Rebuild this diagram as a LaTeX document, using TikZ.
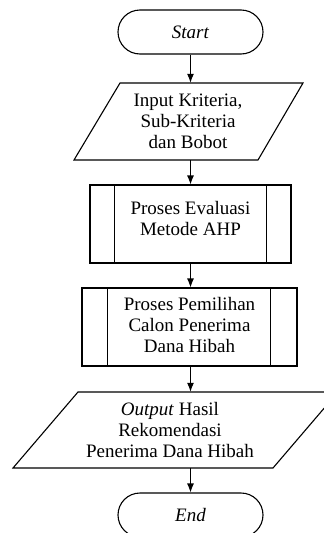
\documentclass[tikz,border=0pt]{standalone}
\usepackage{fontspec}
\setmainfont{Liberation Serif}
\usetikzlibrary{arrows.meta}
\begin{document}
\begin{tikzpicture}[x=1pt,y=-1pt,
  every node/.style={font=\fontsize{19}{21}\selectfont, align=center, inner sep=0pt},
  term/.style={draw, line width=1.1pt, rounded corners=22pt, minimum width=145pt, minimum height=44pt},
  proc/.style={draw, line width=1.1pt},
  io/.style={minimum height=77pt},
  arr/.style={line width=1.1pt, -{Latex[length=9pt,width=7pt]}},
  outl/.style={line width=1.1pt}]
\useasboundingbox (0,0) rectangle (324,533);
\clip (0,0) rectangle (324,533);

% Start
\node[term] (start) at (190.5,32) {\textit{Start}};

% Input
\draw[outl] (120,83) -- (303,83) -- (258,160) -- (74,160) -- cycle;
\node[io] (in) at (188,121.5) {Input Kriteria,\\Sub-Kriteria\\dan Bobot};

% Proses 1
\node[proc, minimum width=201pt, minimum height=78pt] (p1) at (190.5,224) {};
\draw[outl] ([xshift=25pt]p1.north west) -- ([xshift=25pt]p1.south west);
\draw[outl] ([xshift=-25pt]p1.north east) -- ([xshift=-25pt]p1.south east);
\node (p1t) at ([yshift=5.5pt]p1.center) {Proses Evaluasi\\Metode AHP};

% Proses 2
\node[proc, minimum width=215pt, minimum height=78pt] (p2) at (189.5,327) {};
\draw[outl] ([xshift=26pt]p2.north west) -- ([xshift=26pt]p2.south west);
\draw[outl] ([xshift=-27pt]p2.north east) -- ([xshift=-27pt]p2.south east);
\node (p2t) at ([yshift=2pt]p2.center) {Proses Pemilihan\\Calon Penerima\\Dana Hibah};

% Output
\draw[outl] (78,392) -- (338,392) -- (273,468) -- (13,468) -- cycle;
\node[minimum height=76pt] (out) at (170,430) {\textit{Output} Hasil\\Rekomendasi\\Penerima Dana Hibah};

% End
\node[term] (end) at (190.5,515) {\textit{End}};

% Connectors
\draw[arr] (start.south) -- (start.south |- in.north);
\draw[arr] (p1.north |- in.south) -- (p1.north);
\draw[arr] (p1.south) -- (p1.south |- p2.north);
\draw[arr] (p1.south |- p2.south) -- (p1.south |- out.north);
\draw[arr] (p1.south |- out.south) -- (end.north);
\end{tikzpicture}
\end{document}
